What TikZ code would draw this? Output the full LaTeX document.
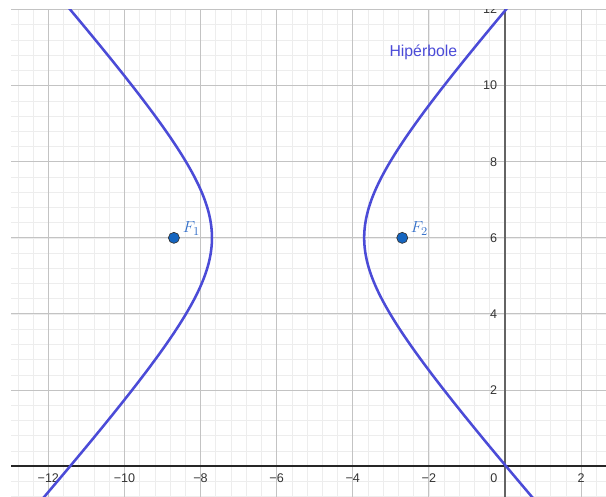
\documentclass[tikz,border=0pt]{standalone}
\usepackage{fontspec}
\setmainfont{Liberation Sans}
\definecolor{curveblue}{RGB}{75,75,215}
\definecolor{ptblue}{RGB}{21,101,192}
\definecolor{lblblue}{RGB}{50,110,200}
\definecolor{majgrid}{RGB}{195,195,195}
\definecolor{mingrid}{RGB}{237,237,237}
\definecolor{axisgray}{RGB}{100,100,100}
\tikzset{
  ticklbl/.style={font=\fontsize{9.4pt}{10pt}\selectfont, text=black!80, inner sep=0pt},
  focus/.style={circle, fill=ptblue, draw=black!80, line width=0.5pt, minimum size=0.29cm, inner sep=0pt},
  focuslbl/.style={text=lblblue, font=\fontsize{12.8pt}{14pt}\selectfont, inner sep=0pt, anchor=base west},
  curve/.style={draw=curveblue, line width=1.9pt}
}
\begin{document}
\begin{tikzpicture}[x=1cm,y=1cm]
\useasboundingbox (-13.27,-0.80) rectangle (2.654,12.25);
\begin{scope}
\clip (-12.98,-0.80) rectangle (2.654,12.01);
% grids
\draw[mingrid, line width=0.5pt, step=0.4] (-13.2,-1.2) grid (2.8,12.4);
\draw[majgrid, line width=0.75pt, step=2] (-14,-2) grid (4,14);
% axes
\draw[black!85, line width=1.1pt] (-13.3,0) -- (2.7,0);
\draw[axisgray, line width=1.3pt] (0,-0.9) -- (0,12.3);
% x tick labels
\foreach \v in {12,10,8,6,4,2}
  \node[ticklbl] (xl\v) at (-\v,-0.316) {−\v};
\node[ticklbl] (x0) at (-0.29,-0.316) {0};
\node[ticklbl] (x2) at (2,-0.316) {2};
% y tick labels
\foreach \v in {2,4,6,8,10,12}
  \node[ticklbl, anchor=east] (yl\v) at (-0.2,\v) {\v};
% hyperbola
\draw[curve] plot[domain=-2.0:2.0, samples=160, smooth, variable=\t] ({-5.7-2*cosh(\t)},{6+sqrt(5)*sinh(\t)});
\draw[curve] plot[domain=-2.0:2.0, samples=160, smooth, variable=\t] ({-5.7+2*cosh(\t)},{6+sqrt(5)*sinh(\t)});
\end{scope}
% foci
\node[focus] (F1) at (-8.7,6) {};
\node[focus] (F2) at (-2.7,6) {};
\node[focuslbl] (F1l) at (-8.47,6.13) {$F_1$};
\node[focuslbl] (F2l) at (-2.48,6.13) {$F_2$};
% curve label
\node[text=curveblue, font=\fontsize{11.8pt}{14pt}\selectfont, inner sep=0pt, anchor=base west] (hip) at (-3.04,10.77) {Hipérbole};
\end{tikzpicture}
\end{document}
